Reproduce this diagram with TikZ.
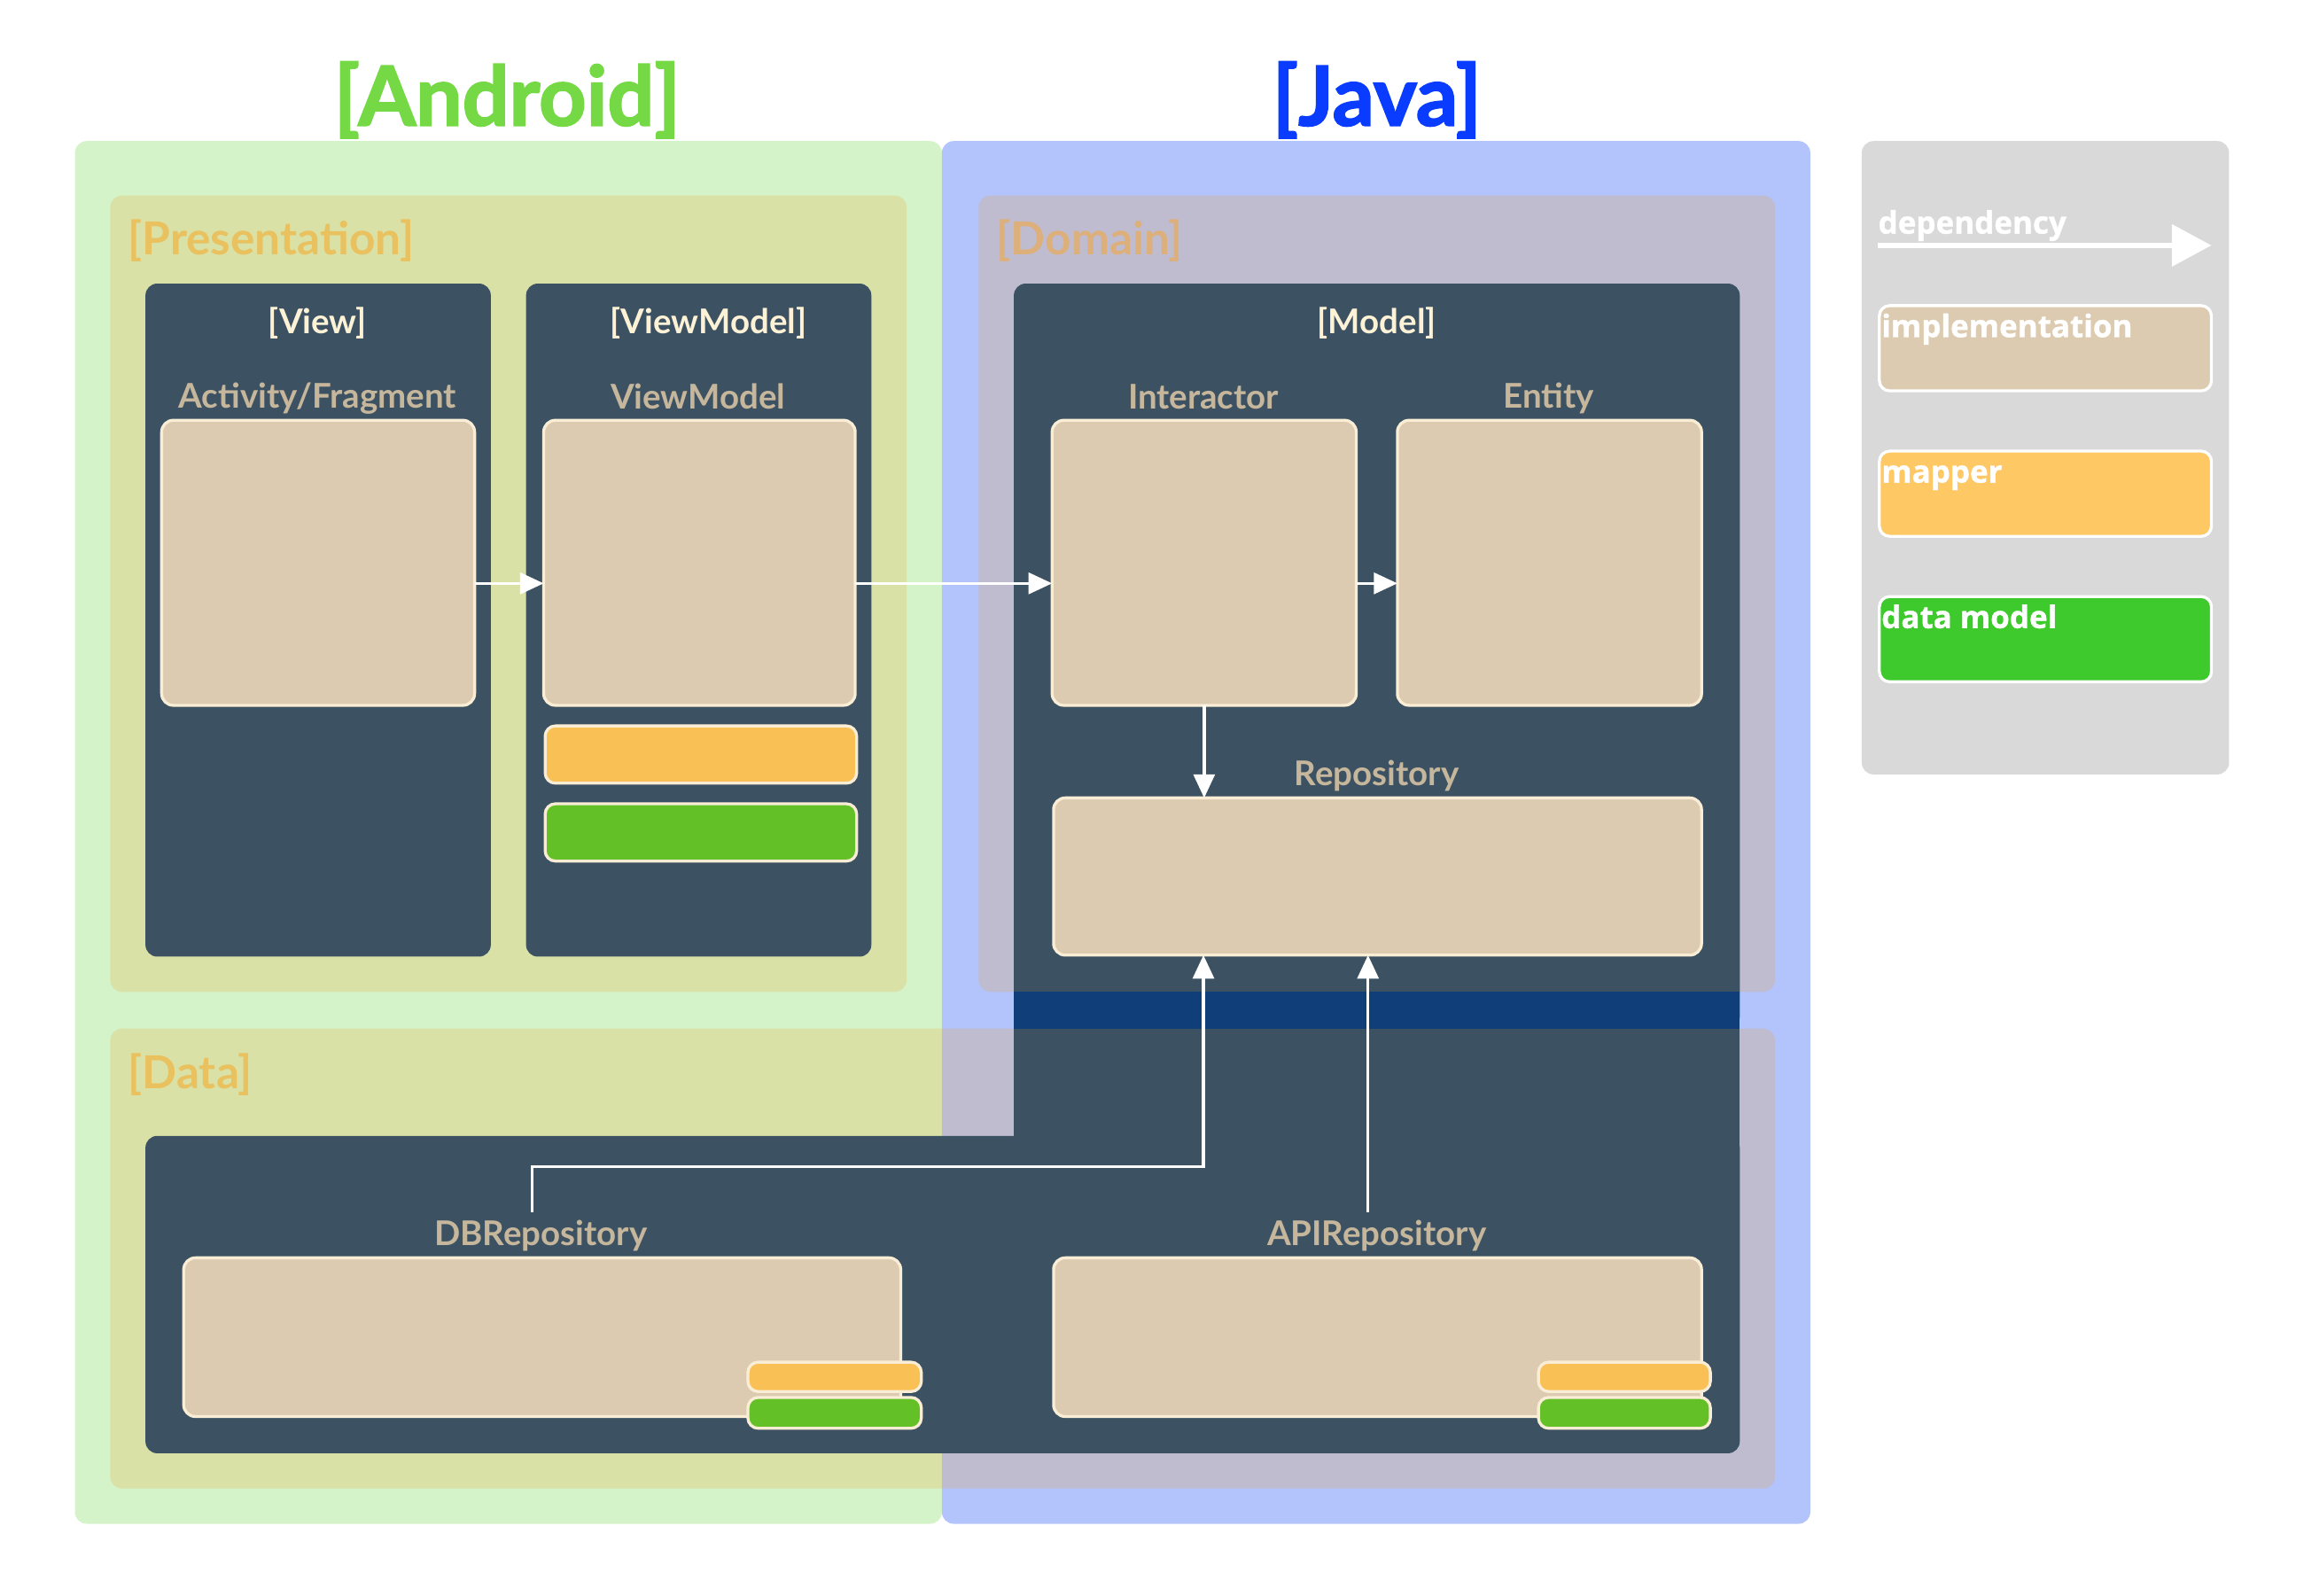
\documentclass[tikz,border=0pt]{standalone}
\usepackage{fontspec}
\setmainfont{Lato}
\newfontfamily\titlefont{Lato}[BoldFeatures={FakeBold=2}]
\newfontfamily\keyfont{Open Sans}[BoldFeatures={FakeBold=1}]
\usetikzlibrary{arrows.meta,positioning,fit}

\definecolor{androidbg}{HTML}{D5F3C9}
\definecolor{javabg}{HTML}{B3C4FD}
\definecolor{keybg}{HTML}{D9D9D9}
\definecolor{layertint}{RGB}{241,157,30}
\definecolor{panelbg}{HTML}{3C5263}
\definecolor{bandbg}{HTML}{0F3E78}
\definecolor{implfill}{HTML}{DCCBB0}
\definecolor{implline}{HTML}{FAEDD6}
\definecolor{mapfill}{HTML}{F9C055}
\definecolor{modelfill}{HTML}{64C027}
\definecolor{keymap}{HTML}{FEC864}
\definecolor{keymodel}{HTML}{3EC92D}
\definecolor{androidtxt}{HTML}{74D944}
\definecolor{javatxt}{HTML}{0A3CFF}
\definecolor{layertxt}{HTML}{E9C15F}
\definecolor{domaintxt}{HTML}{DDB07B}
\definecolor{paneltxt}{HTML}{FDF1D6}
\definecolor{comptxt}{HTML}{C6B79C}

\tikzset{
  impl/.style={fill=implfill, draw=implline, line width=0.5mm, rounded corners=2mm, inner sep=0pt, outer sep=0pt},
  mapbar/.style={impl, fill=mapfill, rounded corners=1.75mm},
  modelbar/.style={impl, fill=modelfill, rounded corners=1.75mm},
  keybox/.style={fill=#1, draw=white, line width=0.5mm, rounded corners=1.75mm, inner sep=0pt, outer sep=0pt},
  keytext/.style={text=white, font=\keyfont\bfseries\fontsize{15}{17}\selectfont, inner sep=0.3mm, text height=14.2pt, anchor=north west},
  layer/.style={fill=layertint, fill opacity=0.2, rounded corners=2mm},
  dep/.style={draw=white, line width=0.5mm, -{Triangle[length=4mm, width=3.6mm]}},
  title/.style={font=\titlefont\bfseries\fontsize{40}{46}\selectfont},
  layertitle/.style={font=\bfseries\fontsize{22}{26}\selectfont, anchor=west, inner sep=0pt},
  paneltitle/.style={text=paneltxt, font=\bfseries\fontsize{16.5}{19}\selectfont},
  complabel/.style={text=comptxt, font=\bfseries\fontsize{16.5}{19}\selectfont, inner sep=1.3mm}
}

\begin{document}
\begin{tikzpicture}[x=0.25mm, y=-0.25mm]
  \useasboundingbox (0,0) rectangle (1568,1086);

  % platforms
  \fill[androidbg, rounded corners=2mm] (51,96) rectangle (641,1037);
  \fill[javabg, rounded corners=2mm] (641,96) rectangle (1232,1037);
  \fill[keybg, rounded corners=2mm] (1267,96) rectangle (1517,527);
  \node[title, text=androidtxt] (android) at (345,68) {[Android]};
  \node[title, text=javatxt] (java) at (937,68) {[Java]};

  % layers
  \fill[layer] (75,133) rectangle (617,675);
  \fill[layer] (666,133) rectangle (1208,675);
  \fill[layer] (75,700) rectangle (1208,1013);
  \node[layertitle, text=layertxt] (presentation) at (87,164) {[Presentation]};
  \node[layertitle, text=domaintxt] (domain) at (678,164) {[Domain]};
  \node[layertitle, text=layertxt] (data) at (87,731) {[Data]};

  % panels
  \fill[panelbg, rounded corners=2mm] (99,193) rectangle (334,651);
  \fill[panelbg, rounded corners=2mm] (358,193) rectangle (593,651);
  \fill[panelbg, rounded corners=2mm] (690,193) rectangle (1184,700);
  \fill[bandbg] (690,675) rectangle (1184,700);
  \fill[panelbg, rounded corners=2mm] (99,773) rectangle (1184,989);
  \fill[panelbg] (690,700) rectangle (1184,790);
  \node[paneltitle] (viewttl) at (216,220) {[View]};
  \node[paneltitle] (vmttl) at (482,220) {[ViewModel]};
  \node[paneltitle] (modelttl) at (937,220) {[Model]};

  % components
  \node[complabel] (actlbl) at (216,271) {Activity/Fragment};
  \node[impl, fit={(110,286) (323,480)}] (act) {};
  \node[complabel] (vmlbl) at (475,270) {ViewModel};
  \node[impl, fit={(370,286) (582,480)}] (vm) {};
  \node[mapbar, fit={(371,494) (583,533)}] (vmmap) {};
  \node[modelbar, fit={(371,547) (583,586)}] (vmmodel) {};
  \node[complabel] (intlbl) at (819,270) {Interactor};
  \node[impl, fit={(716,286) (923,480)}] (int) {};
  \node[complabel] (entlbl) at (1054,271) {Entity};
  \node[impl, fit={(951,286) (1158,480)}] (ent) {};
  \node[complabel] (repolbl) at (937,528) {Repository};
  \node[impl, fit={(717,543) (1158,650)}] (repo) {};
  \node[complabel] (dblbl) at (368,841) {DBRepository};
  \node[impl, fit={(125,856) (613,964)}] (db) {};
  \node[mapbar, fit={(509,927) (627,947)}] (dbmap) {};
  \node[modelbar, fit={(509,951) (627,972)}] (dbmodel) {};
  \node[complabel] (apilbl) at (937,841) {APIRepository};
  \node[impl, fit={(717,856) (1158,964)}] (api) {};
  \node[mapbar, fit={(1047,927) (1164,947)}] (apimap) {};
  \node[modelbar, fit={(1047,951) (1164,972)}] (apimodel) {};

  % dependencies
  \coordinate (dbturn) at (819,794);
  \draw[dep] ([yshift=-3.5mm]act.east) -- ([yshift=-3.5mm]act.east -| vm.west);
  \draw[dep] ([yshift=-3.5mm]vm.east) -- ([yshift=-3.5mm]vm.east -| int.west);
  \draw[dep] ([yshift=-3.5mm]int.east) -- ([yshift=-3.5mm]int.east -| ent.west);
  \draw[dep] (int.south) -- (int.south |- repo.north);
  \draw[dep] ([xshift=-1.5mm]dblbl.north) |- (dbturn) -- (dbturn |- repo.south);
  \draw[dep] ([xshift=-1.5mm]apilbl.north) -- ([xshift=-1.5mm]apilbl.north |- repo.south);

  % legend
  \coordinate (keystart) at (1278,167);
  \coordinate (keyend) at (1505,167);
  \draw[white, line width=1mm, -{Triangle[length=6.75mm, width=7mm]}] (keystart) -- (keyend);
  \node[keytext, anchor=base west, inner sep=0pt, text height=] (keydep) at (1278,159) {dependency};
  \node[keybox=implfill, fit={(1279,208) (1505,266)}] (keyimpl) {};
  \node[keytext] (keyimpltxt) at (keyimpl.north west) {implementation};
  \node[keybox=keymap, fit={(1279,307) (1505,365)}] (keymapper) {};
  \node[keytext] (keymappertxt) at (keymapper.north west) {mapper};
  \node[keybox=keymodel, fit={(1279,406) (1505,464)}] (keydata) {};
  \node[keytext] (keydatatxt) at (keydata.north west) {data model};
\end{tikzpicture}
\end{document}
